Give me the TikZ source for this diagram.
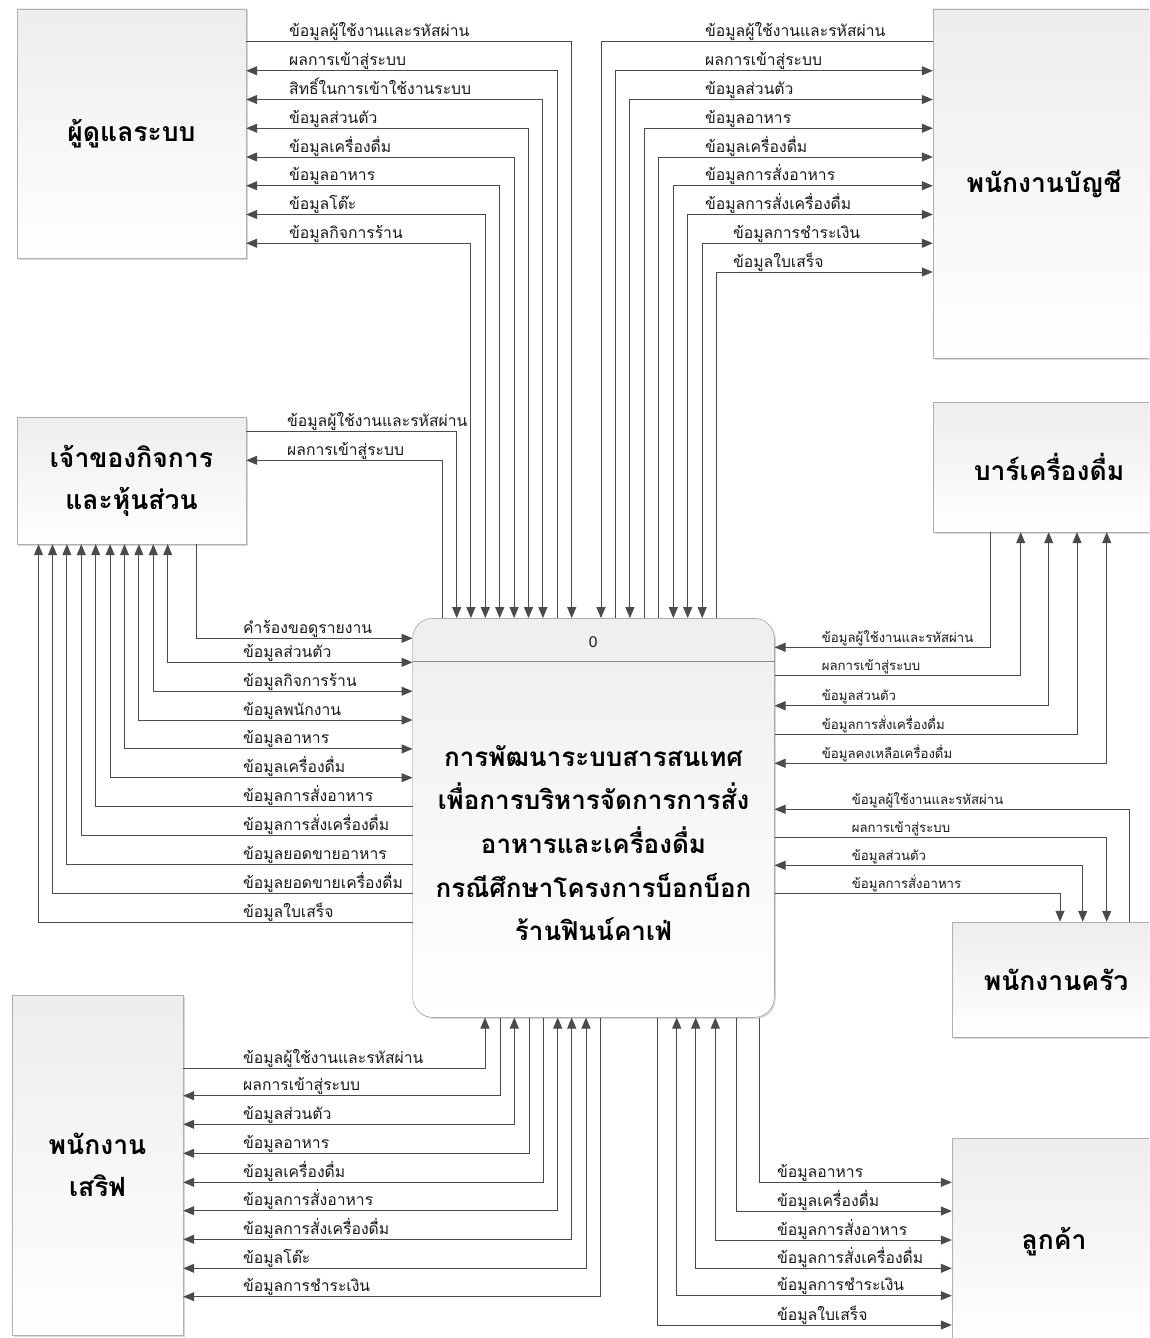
\documentclass[tikz,border=0pt]{standalone}
\usepackage{fontspec}
\newfontfamily\thai[Script=Thai]{Loma}
\newfontfamily\latn{Liberation Sans}
\usetikzlibrary{arrows.meta,shadows}
\definecolor{linec}{RGB}{75,75,75}
\definecolor{boxline}{RGB}{175,175,175}
\definecolor{txt}{RGB}{25,25,25}
\begin{document}
\begin{tikzpicture}[x=1pt,y=-1pt,
  conn/.style={draw=linec,line width=1pt},
  >={Triangle[length=11pt,width=9pt]},
  ent/.style={draw=boxline,top color=gray!14,bottom color=white,inner sep=0pt,
    drop shadow={shadow xshift=1.5pt,shadow yshift=-1.5pt,opacity=0.3},
    font=\thai\bfseries\fontsize{26.5}{42}\selectfont,align=center,text=black},
  lbl/.style={font=\thai\fontsize{15.7}{18}\selectfont,anchor=base west,inner sep=0pt,text=txt},
  slbl/.style={font=\thai\fontsize{13.2}{15}\selectfont,anchor=base west,inner sep=0pt,text=txt},
]
\useasboundingbox (0,0) rectangle (1149,1338);
\clip (0,0) rectangle (1149,1338);
\fill[white] (0,0) rectangle (1149,1338);

% entities
\node[ent,minimum width=229pt,minimum height=249pt] (admin) at (131.5,133.5) {ผู้ดูแลระบบ};
\node[ent,minimum width=229pt,minimum height=127pt] (owner) at (131.5,480.5) {เจ้าของกิจการ\\และหุ้นส่วน};
\node[ent,minimum width=171pt,minimum height=340pt] (serve) at (97.5,1165) {พนักงาน\\เสริฟ};
\node[ent,minimum width=222pt,minimum height=349pt] (acc) at (1044,183.5) {พนักงานบัญชี};
\node[ent,minimum width=232pt,minimum height=130pt] (bar) at (1049,467) {บาร์เครื่องดื่ม};
\node[ent,minimum width=208pt,minimum height=115pt] (kit) at (1056,979.5) {พนักงานครัว};
\node[ent,minimum width=204pt,minimum height=207pt] (cust) at (1054,1241.5) {ลูกค้า};

% process
\node[draw=boxline!80!black,rounded corners=20pt,top color=gray!13,bottom color=white,
  minimum width=361.6pt,minimum height=399pt,inner sep=0pt,
  drop shadow={shadow xshift=1.5pt,shadow yshift=-1.5pt,opacity=0.3}] (proc) at (593.5,817.8) {};
\draw[draw=boxline!80!black,line width=0.8pt] (proc.west |- 0,661.7) -- (proc.east |- 0,661.7);
\node[font=\latn\fontsize{15.5}{18}\selectfont,text=txt] (pid) at (593.3,642.3) {0};
\node[font=\thai\bfseries\fontsize{26}{43.7}\selectfont,align=center,text=black] (ptitle) at (593.5,843)
  {การพัฒนาระบบสารสนเทศ\\เพื่อการบริหารจัดการการสั่ง\\อาหารและเครื่องดื่ม\\กรณีศึกษาโครงการบ็อกบ็อก\\ร้านฟินน์คาเฟ่};

% ---- admin flows
\draw[conn,->] (admin.east |- 0,42) -| (571.7,0 |- proc.north);
\draw[conn,->] (557.3,0 |- proc.north) |- (admin.east |- 0,70.75);
\draw[conn,<->] (542.9,0 |- proc.north) |- (admin.east |- 0,99.5);
\draw[conn,<->] (528.5,0 |- proc.north) |- (admin.east |- 0,128.25);
\draw[conn,<->] (514.1,0 |- proc.north) |- (admin.east |- 0,157);
\draw[conn,<->] (499.7,0 |- proc.north) |- (admin.east |- 0,185.75);
\draw[conn,<->] (485.3,0 |- proc.north) |- (admin.east |- 0,214.5);
\draw[conn,<->] (470.9,0 |- proc.north) |- (admin.east |- 0,243.25);
\node[lbl] (a1) at (289,37) {ข้อมูลผู้ใช้งานและรหัสผ่าน};
\node[lbl] (a2) at (289,65.75) {ผลการเข้าสู่ระบบ};
\node[lbl] (a3) at (289,94.5) {สิทธิ์ในการเข้าใช้งานระบบ};
\node[lbl] (a4) at (289,123.25) {ข้อมูลส่วนตัว};
\node[lbl] (a5) at (289,152) {ข้อมูลเครื่องดื่ม};
\node[lbl] (a6) at (289,180.75) {ข้อมูลอาหาร};
\node[lbl] (a7) at (289,209.5) {ข้อมูลโต๊ะ};
\node[lbl] (a8) at (289,238.25) {ข้อมูลกิจการร้าน};

% ---- owner (top) flows
\draw[conn,->] (owner.east |- 0,431.7) -| (456.7,0 |- proc.north);
\draw[conn,->] (442,0 |- proc.north) |- (owner.east |- 0,460.3);
\node[lbl] (o1) at (287,426.7) {ข้อมูลผู้ใช้งานและรหัสผ่าน};
\node[lbl] (o2) at (287,455.3) {ผลการเข้าสู่ระบบ};

% ---- accountant flows
\draw[conn,->] (acc.west |- 0,42) -| (601,0 |- proc.north);
\draw[conn,->] (615.5,0 |- proc.north) |- (acc.west |- 0,70.75);
\draw[conn,<->] (629.9,0 |- proc.north) |- (acc.west |- 0,99.5);
\draw[conn,->] (644.4,0 |- proc.north) |- (acc.west |- 0,128.25);
\draw[conn,->] (658.8,0 |- proc.north) |- (acc.west |- 0,157);
\draw[conn,<->] (673.3,0 |- proc.north) |- (acc.west |- 0,185.75);
\draw[conn,<->] (687.7,0 |- proc.north) |- (acc.west |- 0,214.5);
\draw[conn,<->] (702.2,0 |- proc.north) |- (acc.west |- 0,243.25);
\draw[conn,->] (716.6,0 |- proc.north) |- (acc.west |- 0,272);
\node[lbl] (b1) at (705,37) {ข้อมูลผู้ใช้งานและรหัสผ่าน};
\node[lbl] (b2) at (705,65.75) {ผลการเข้าสู่ระบบ};
\node[lbl] (b3) at (705,94.5) {ข้อมูลส่วนตัว};
\node[lbl] (b4) at (705,123.25) {ข้อมูลอาหาร};
\node[lbl] (b5) at (705,152) {ข้อมูลเครื่องดื่ม};
\node[lbl] (b6) at (705,180.75) {ข้อมูลการสั่งอาหาร};
\node[lbl] (b7) at (705,209.5) {ข้อมูลการสั่งเครื่องดื่ม};
\node[lbl] (b8) at (733,238.25) {ข้อมูลการชำระเงิน};
\node[lbl] (b9) at (733,267) {ข้อมูลใบเสร็จ};

% ---- owner (bottom) flows
\draw[conn,->] (196.7,0 |- owner.south) |- (proc.west |- 0,638.3);
\draw[conn,<->] (167.7,0 |- owner.south) |- (proc.west |- 0,662.3);
\draw[conn,<->] (153.3,0 |- owner.south) |- (proc.west |- 0,691.2);
\draw[conn,<->] (138.9,0 |- owner.south) |- (proc.west |- 0,720);
\draw[conn,<->] (124.5,0 |- owner.south) |- (proc.west |- 0,748.9);
\draw[conn,<->] (110.1,0 |- owner.south) |- (proc.west |- 0,777.7);
\draw[conn,->] (proc.west |- 0,806.6) -| (95.7,0 |- owner.south);
\draw[conn,->] (proc.west |- 0,835.4) -| (81.3,0 |- owner.south);
\draw[conn,->] (proc.west |- 0,864.3) -| (66.9,0 |- owner.south);
\draw[conn,->] (proc.west |- 0,893.2) -| (52.5,0 |- owner.south);
\draw[conn,->] (proc.west |- 0,922.1) -| (38.5,0 |- owner.south);
\node[lbl] (c1) at (243,633.3) {คำร้องขอดูรายงาน};
\node[lbl] (c2) at (243,657.3) {ข้อมูลส่วนตัว};
\node[lbl] (c3) at (243,686.2) {ข้อมูลกิจการร้าน};
\node[lbl] (c4) at (243,715) {ข้อมูลพนักงาน};
\node[lbl] (c5) at (243,743.9) {ข้อมูลอาหาร};
\node[lbl] (c6) at (243,772.7) {ข้อมูลเครื่องดื่ม};
\node[lbl] (c7) at (243,801.6) {ข้อมูลการสั่งอาหาร};
\node[lbl] (c8) at (243,830.4) {ข้อมูลการสั่งเครื่องดื่ม};
\node[lbl] (c9) at (243,859.3) {ข้อมูลยอดขายอาหาร};
\node[lbl] (c10) at (243,888.2) {ข้อมูลยอดขายเครื่องดื่ม};
\node[lbl] (c11) at (243,917.1) {ข้อมูลใบเสร็จ};

% ---- bar flows
\draw[conn,->] (990,0 |- bar.south) |- (proc.east |- 0,647.3);
\draw[conn,->] (proc.east |- 0,675.7) -| (1020.7,0 |- bar.south);
\draw[conn,<->] (proc.east |- 0,705.7) -| (1048.7,0 |- bar.south);
\draw[conn,->] (proc.east |- 0,734.3) -| (1077,0 |- bar.south);
\draw[conn,<->] (proc.east |- 0,763.3) -| (1106.7,0 |- bar.south);
\node[slbl] (d1) at (821.7,642.3) {ข้อมูลผู้ใช้งานและรหัสผ่าน};
\node[slbl] (d2) at (821.7,670.7) {ผลการเข้าสู่ระบบ};
\node[slbl] (d3) at (821.7,700.7) {ข้อมูลส่วนตัว};
\node[slbl] (d4) at (821.7,729.3) {ข้อมูลการสั่งเครื่องดื่ม};
\node[slbl] (d5) at (821.7,758.3) {ข้อมูลคงเหลือเครื่องดื่ม};

% ---- kitchen flows
\draw[conn,->] (1129.3,0 |- kit.north) |- (proc.east |- 0,809.3);
\draw[conn,->] (proc.east |- 0,837) -| (1106.7,0 |- kit.north);
\draw[conn,<->] (proc.east |- 0,865.3) -| (1082.7,0 |- kit.north);
\draw[conn,->] (proc.east |- 0,893.3) -| (1060,0 |- kit.north);
\node[slbl] (e1) at (851.7,804.3) {ข้อมูลผู้ใช้งานและรหัสผ่าน};
\node[slbl] (e2) at (851.7,832) {ผลการเข้าสู่ระบบ};
\node[slbl] (e3) at (851.7,860.3) {ข้อมูลส่วนตัว};
\node[slbl] (e4) at (851.7,888.3) {ข้อมูลการสั่งอาหาร};

% ---- serve flows
\draw[conn,->] (serve.east |- 0,1068.3) -| (485,0 |- proc.south);
\draw[conn,->] (500,0 |- proc.south) |- (serve.east |- 0,1095.7);
\draw[conn,<->] (514.3,0 |- proc.south) |- (serve.east |- 0,1124.3);
\draw[conn,->] (529,0 |- proc.south) |- (serve.east |- 0,1153.3);
\draw[conn,->] (543.3,0 |- proc.south) |- (serve.east |- 0,1182.3);
\draw[conn,<->] (557.7,0 |- proc.south) |- (serve.east |- 0,1210.7);
\draw[conn,<->] (571.7,0 |- proc.south) |- (serve.east |- 0,1239.3);
\draw[conn,<->] (586,0 |- proc.south) |- (serve.east |- 0,1268.3);
\draw[conn,->] (600.5,0 |- proc.south) |- (serve.east |- 0,1296.7);
\node[lbl] (f1) at (243,1063.3) {ข้อมูลผู้ใช้งานและรหัสผ่าน};
\node[lbl] (f2) at (243,1090.7) {ผลการเข้าสู่ระบบ};
\node[lbl] (f3) at (243,1119.3) {ข้อมูลส่วนตัว};
\node[lbl] (f4) at (243,1148.3) {ข้อมูลอาหาร};
\node[lbl] (f5) at (243,1177.3) {ข้อมูลเครื่องดื่ม};
\node[lbl] (f6) at (243,1205.7) {ข้อมูลการสั่งอาหาร};
\node[lbl] (f7) at (243,1234.3) {ข้อมูลการสั่งเครื่องดื่ม};
\node[lbl] (f8) at (243,1263.3) {ข้อมูลโต๊ะ};
\node[lbl] (f9) at (243,1291.7) {ข้อมูลการชำระเงิน};

% ---- customer flows
\draw[conn,->] (759,0 |- proc.south) |- (cust.west |- 0,1182.3);
\draw[conn,->] (736.7,0 |- proc.south) |- (cust.west |- 0,1211);
\draw[conn,<->] (715.3,0 |- proc.south) |- (cust.west |- 0,1240);
\draw[conn,<->] (695.7,0 |- proc.south) |- (cust.west |- 0,1268.3);
\draw[conn,<->] (676.7,0 |- proc.south) |- (cust.west |- 0,1295.7);
\draw[conn,->] (657,0 |- proc.south) |- (cust.west |- 0,1325);
\node[lbl] (g1) at (777,1177.3) {ข้อมูลอาหาร};
\node[lbl] (g2) at (777,1206) {ข้อมูลเครื่องดื่ม};
\node[lbl] (g3) at (777,1235) {ข้อมูลการสั่งอาหาร};
\node[lbl] (g4) at (777,1263.3) {ข้อมูลการสั่งเครื่องดื่ม};
\node[lbl] (g5) at (777,1290.7) {ข้อมูลการชำระเงิน};
\node[lbl] (g6) at (777,1320) {ข้อมูลใบเสร็จ};
\end{tikzpicture}
\end{document}
